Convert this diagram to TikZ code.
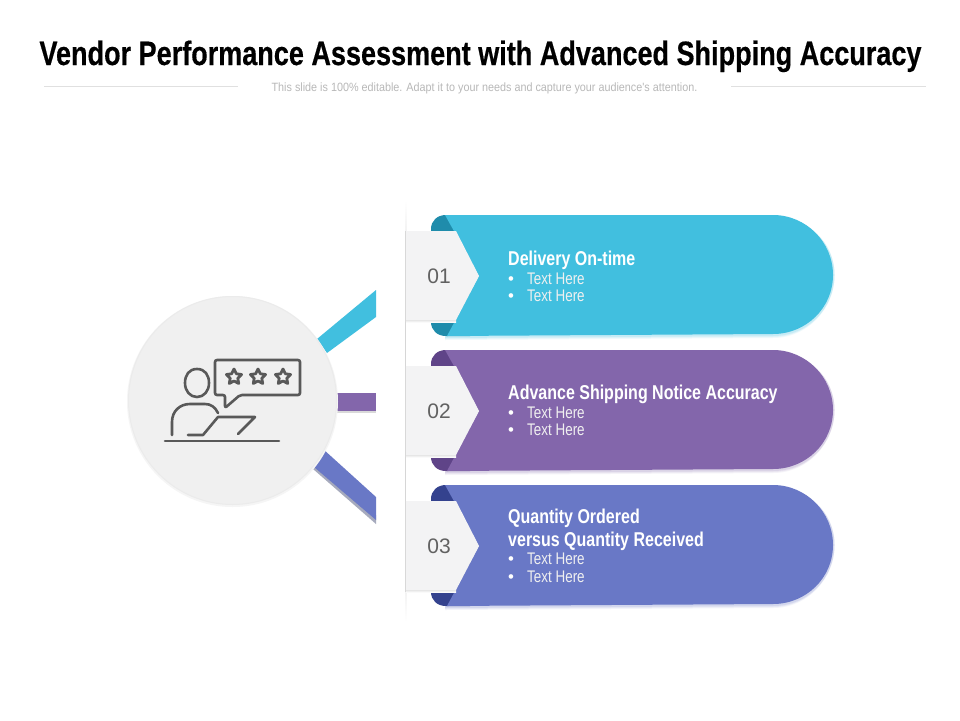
\documentclass[tikz,border=0pt]{standalone}
\usepackage{fontspec}
\setmainfont{Liberation Sans}
\newfontfamily\narrowfont[FakeStretch=0.8]{Liberation Sans}
\newfontfamily\heavyfont[FakeStretch=0.8,FakeBold=0.4]{Liberation Sans Bold}
\newfontfamily\subfont[FakeStretch=0.9]{Liberation Sans}
\usetikzlibrary{shapes.geometric}
\definecolor{cyanband}{HTML}{41BFDF}
\definecolor{cyandark}{HTML}{1F8CAB}
\definecolor{purpband}{HTML}{8366AB}
\definecolor{purpdark}{HTML}{5F4488}
\definecolor{blueband}{HTML}{6978C6}
\definecolor{bluedark}{HTML}{34428E}
\definecolor{chev}{HTML}{F3F3F4}
\definecolor{iconink}{HTML}{595959}
\tikzset{
  titletext/.style={anchor=base,font=\heavyfont\fontsize{33.8}{38}\selectfont,text=black,inner sep=0pt},
  subtext/.style={anchor=base,font=\subfont\fontsize{12}{14}\selectfont,text=black!28,inner sep=0pt},
  headtext/.style={anchor=base west,font=\narrowfont\bfseries\fontsize{20}{24}\selectfont,text=white,inner sep=0pt},
  bodytext/.style={anchor=base west,font=\narrowfont\fontsize{16.8}{20}\selectfont,text=white!94!black,inner sep=0pt},
  bullettext/.style={anchor=base west,font=\fontsize{16.8}{20}\selectfont,text=white,inner sep=0pt},
  numtext/.style={font=\fontsize{21}{24}\selectfont,text=black!62,inner sep=0pt},
  rulegray/.style={draw=black!12,line width=0.8pt},
  iconline/.style={draw=iconink,line width=2.6pt,line cap=round,line join=round},
  starshape/.style={star,star points=5,star point ratio=2.0,minimum size=16pt,inner sep=0pt,draw=iconink,line width=2.8pt,line join=round}
}
% #1 top y, #2 band colour, #3 dark colour, #4 number
\newcommand{\bandrow}[4]{%
  \begin{scope}[yshift=-#1pt]
    \foreach \o/\a in {4/8,3/10,2/14}{
      \fill[#2,opacity=\a/100] (445,\o) -- (773,\o) .. controls (808,\o) and (834.5,27) .. (834.5,60) .. controls (834.5,93) and (808,119+\o) .. (773,119+\o) -- (445,121+\o) -- cycle;
    }
    \fill[#3] (446,0) .. controls (437,0) and (431,6) .. (431,14) -- (431,107) .. controls (431,115) and (437,121) .. (446,121) -- (470,121) -- (470,0) -- cycle;
    \fill[#2] (445,0) -- (773,0) .. controls (806,0) and (833,27) .. (833,60) .. controls (833,93) and (806,119) .. (773,119) -- (447,121) -- (479,61) -- cycle;
    \shade[left color=white,right color=black!38] (404,16) rectangle (406.5,106);
    \shade[top color=black!10,bottom color=white] (406,105) rectangle (456,107.5);
    \fill[chev] (406,16) -- (456,16) -- (479,61) -- (456,105) -- (406,105) -- cycle;
    \node[numtext] (num#4) at (439,61) {#4};
  \end{scope}}
\begin{document}
\begin{tikzpicture}[x=1pt,y=-1pt]
\useasboundingbox (0,0) rectangle (960,720);
\fill[white] (0,0) rectangle (960,720);
% title
\node[titletext] (title) at (480.5,65) {Vendor Performance Assessment with Advanced Shipping Accuracy};
\node[subtext] (subtitle) at (484.5,91) {This slide is 100\% editable. Adapt it to your needs and capture your audience's attention.};
\draw[rulegray] (44,86) -- (238,86);
\draw[rulegray] (731,86) -- (926,86);
% vertical rule
\shade[top color=white,bottom color=black!16] (405.4,200) rectangle (406.4,300);
\fill[black!16] (405.4,300) rectangle (406.4,520);
\shade[top color=black!16,bottom color=white] (405.4,520) rectangle (406.4,622);
% spokes
\fill[cyanband] (317,339) -- (376,290) -- (376,317) -- (327,353) -- cycle;
\fill[black!15] (337,411) rectangle (376,412.5);
\fill[purpband] (337,393) rectangle (376,411);
\fill[blueband!55!black!45!white] (313,469) -- (376,524) -- (376,515) -- (320,460) -- cycle;
\fill[blueband] (323,449) -- (376,497) -- (376,520) -- (314,467) -- cycle;
% bands
\bandrow{215}{cyanband}{cyandark}{01}
\bandrow{350}{purpband}{purpdark}{02}
\bandrow{485}{blueband}{bluedark}{03}
% band 1 text
\node[headtext] (h1) at (508,265) {Delivery On-time};
\node[bullettext] (b1a) at (508,284) {•}; \node[bodytext] (t1a) at (527,284) {Text Here};
\node[bullettext] (b1b) at (508,301) {•}; \node[bodytext] (t1b) at (527,301) {Text Here};
% band 2 text
\node[headtext] (h2) at (508,399) {Advance Shipping Notice Accuracy};
\node[bullettext] (b2a) at (508,418) {•}; \node[bodytext] (t2a) at (527,418) {Text Here};
\node[bullettext] (b2b) at (508,435) {•}; \node[bodytext] (t2b) at (527,435) {Text Here};
% band 3 text
\node[headtext] (h3a) at (508,523) {Quantity Ordered};
\node[headtext] (h3b) at (508,546) {versus Quantity Received};
\node[bullettext] (b3a) at (508,564) {•}; \node[bodytext] (t3a) at (527,564) {Text Here};
\node[bullettext] (b3b) at (508,582) {•}; \node[bodytext] (t3b) at (527,582) {Text Here};
% hub
\fill[black!4] (232.5,401.5) circle (105.5);
\node[circle,minimum size=208pt,inner sep=0pt,draw=black!8,line width=1pt,fill=black!6] (hub) at (232.5,400.5) {};
% icon
\draw[iconline,rounded corners=2pt] (215,360) -- (300,360) -- (300,395) -- (240,395) -- (225,408) -- (225,395) -- (215,395) -- cycle;
\draw[iconline] (197,369) .. controls (189,369) and (185,375) .. (185,383) .. controls (185,391) and (190,397) .. (197,397) .. controls (204,397) and (209,391) .. (209,383) .. controls (209,375) and (205,369) .. (197,369) -- cycle;
\draw[iconline] (172,435) -- (172,422) .. controls (172,411) and (180,404) .. (190,404) -- (205,404) .. controls (211,404) and (215,407) .. (218,413);
\draw[iconline] (188,435) -- (203,435) -- (218,417) -- (255,417) -- (238,434);
\draw[iconline] (165,441) -- (279,441);
\node[starshape] (s1) at (234,377) {};
\node[starshape] (s2) at (258,377) {};
\node[starshape] (s3) at (283,377) {};
\end{tikzpicture}
\end{document}
